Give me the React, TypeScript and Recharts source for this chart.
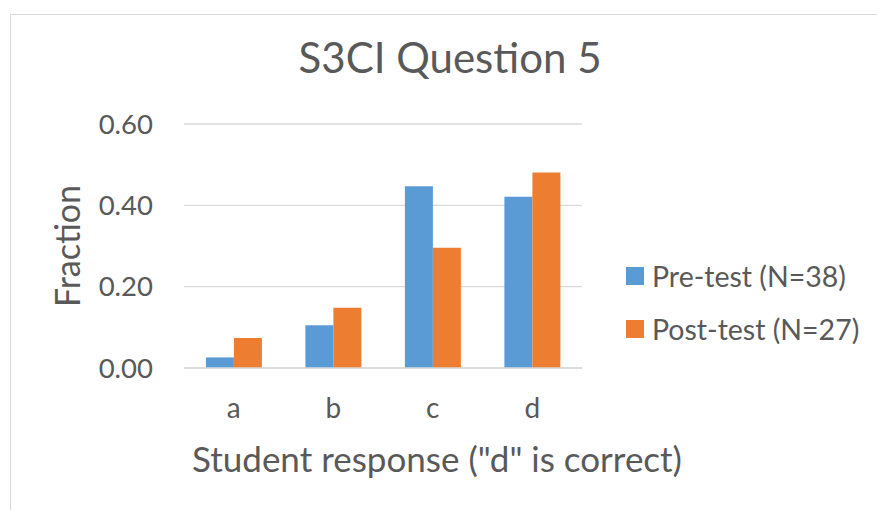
import { BarChart, Bar, XAxis, YAxis, CartesianGrid, Legend } from "recharts";

const categories = ["a", "b", "c", "d"];
const preTest = [0.026, 0.105, 0.447, 0.421];
const postTest = [0.074, 0.148, 0.296, 0.481];
const yTicks = [0, 0.2, 0.4, 0.6];
const seriesNames = ["Pre-test (N=38)", "Post-test (N=27)"];

const COLORS = ["#5B9BD5", "#ED7D31"];
const TEXT = "#595959";
const FONT = "Lato, 'Open Sans', sans-serif";

const data = categories.map((c, i) => ({ name: c, pre: preTest[i], post: postTest[i] }));

// keep series order (recharts sorts legend items by name otherwise)
const renderLegend = (props: any) => {
  const items = [...(props.payload || [])].sort(
    (a: any, b: any) => seriesNames.indexOf(a.value) - seriesNames.indexOf(b.value)
  );
  return (
    <div>
      {items.map((p: any, i: number) => (
        <div key={i} style={{ display: "flex", alignItems: "center", height: 53 }}>
          <span style={{ width: 18, height: 18, background: p.color, marginRight: 8, display: "inline-block" }} />
          <span style={{ fontSize: 28.5, color: TEXT, fontFamily: FONT }}>{p.value}</span>
        </div>
      ))}
    </div>
  );
};

export default function App() {
  return (
    <div style={{ position: "fixed", left: 0, top: 0, width: 877, height: 510, overflow: "hidden", background: "#fff", fontFamily: FONT }}>
      <div style={{ position: "absolute", left: 10, top: 14, width: 1000, height: 1000, border: "1px solid #D9D9D9" }} />
      <div style={{ position: "absolute", left: 0, top: 32, width: 900, textAlign: "center", fontSize: 42, color: TEXT, lineHeight: "50px" }}>
        S3CI Question 5
      </div>
      <div style={{ position: "absolute", left: 0, top: 0 }}>
        <BarChart width={877} height={510} data={data} margin={{ top: 124, right: 44, bottom: 0, left: 40 }}
          barCategoryGap="22%" barGap={0}>
          <CartesianGrid vertical={false} stroke="#D9D9D9" strokeWidth={1.3} />
          <XAxis dataKey="name" height={142} tickLine={false} tickSize={0} tickMargin={30}
            axisLine={{ stroke: "#D9D9D9", strokeWidth: 1.5 }}
            tick={{ fill: TEXT, fontSize: 28, fontFamily: FONT }}
            label={{ value: 'Student response ("d" is correct)', position: "insideBottom", offset: 38, dx: 54, fill: TEXT, fontSize: 35, fontFamily: FONT }} />
          <YAxis width={144} domain={[0, 0.6]} ticks={yTicks} axisLine={false} tickLine={false} tickSize={0} tickMargin={31}
            tickFormatter={(v: number) => v.toFixed(2)}
            tick={{ fill: TEXT, fontSize: 27.5, fontFamily: FONT }}
            label={{ value: "Fraction", angle: -90, position: "insideLeft", offset: 28, fill: TEXT, fontSize: 34, fontFamily: FONT, style: { textAnchor: "middle" } }} />
          <Legend layout="vertical" align="right" verticalAlign="middle" content={renderLegend}
            wrapperStyle={{ position: "absolute", left: 626, top: 249, width: 251 }} />
          <Bar dataKey="pre" name={seriesNames[0]} fill={COLORS[0]} isAnimationActive={false} />
          <Bar dataKey="post" name={seriesNames[1]} fill={COLORS[1]} isAnimationActive={false} />
        </BarChart>
      </div>
    </div>
  );
}
